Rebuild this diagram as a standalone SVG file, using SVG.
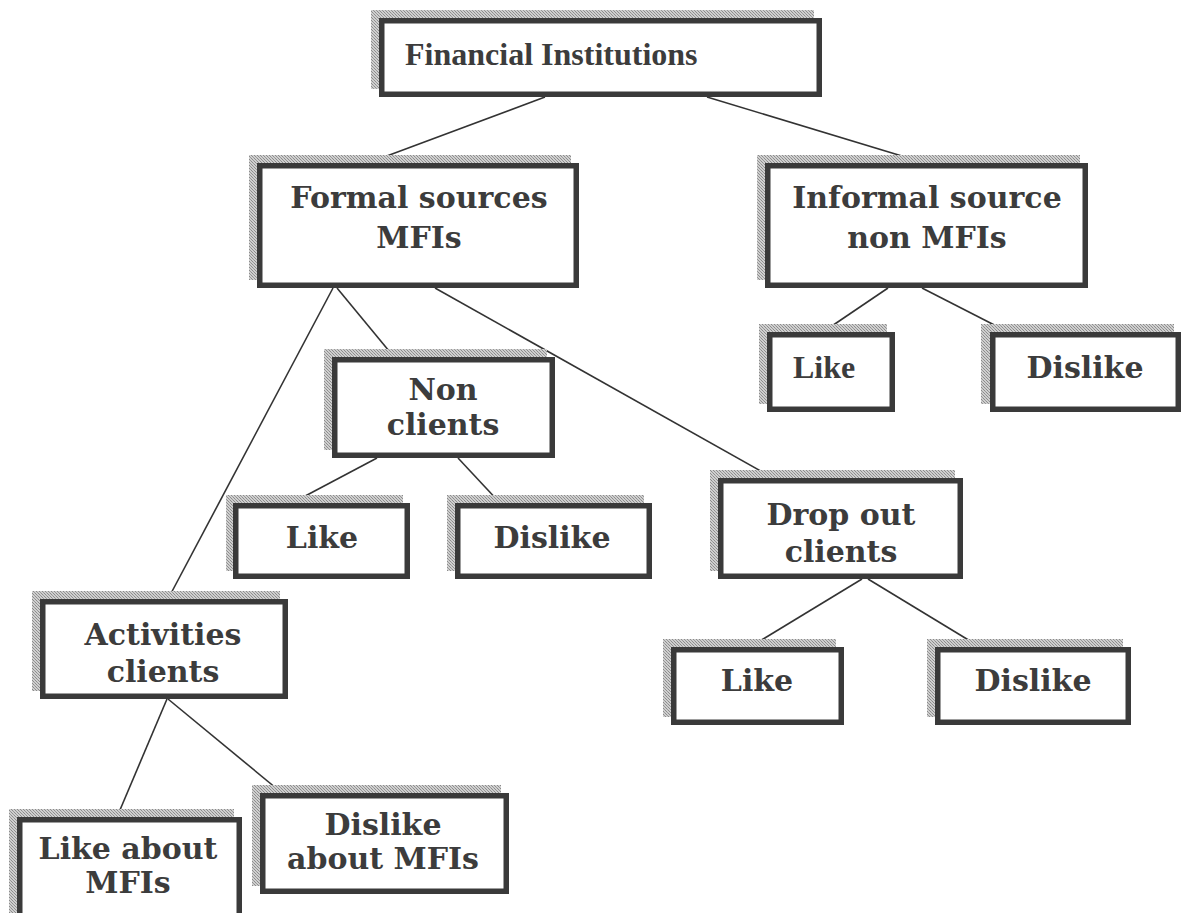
<svg xmlns="http://www.w3.org/2000/svg" width="1181" height="913" viewBox="0 0 1181 913">
  <defs>
    <pattern id="hatch" width="3" height="3" patternUnits="userSpaceOnUse">
      <rect width="3" height="3" fill="#cfcfcf"/>
      <rect x="0" y="0" width="1" height="1" fill="#8c8c8c"/>
      <rect x="1" y="1" width="1" height="1" fill="#9a9a9a"/>
      <rect x="2" y="2" width="1" height="1" fill="#8c8c8c"/>
    </pattern>
  </defs>
  <style>
    .sh { fill: url(#hatch); }
    .bx { fill: #ffffff; stroke: #3a3a3a; stroke-width: 5.5; }
    .t { font-family: "DejaVu Serif", "Liberation Serif", serif; font-weight: bold; font-size: 30px; fill: #3c3c3c; text-anchor: middle; }
    .tt { font-family: "Liberation Serif", "Times New Roman", serif; font-weight: bold; font-size: 32px; fill: #3c3c3c; }
    .c { stroke: #333333; stroke-width: 1.6; fill: none; }
  </style>
  <rect width="1181" height="913" fill="#ffffff"/>

  <g id="connectors">
    <line class="c" x1="545" y1="97" x2="368" y2="163"/>
    <line class="c" x1="707" y1="97" x2="925" y2="163"/>
    <line class="c" x1="333" y1="288" x2="168" y2="599"/>
    <line class="c" x1="337" y1="288" x2="394" y2="357"/>
    <line class="c" x1="435" y1="288" x2="773" y2="478"/>
    <line class="c" x1="888" y1="288" x2="823" y2="332"/>
    <line class="c" x1="922" y1="288" x2="1008" y2="332"/>
    <line class="c" x1="377" y1="458" x2="292" y2="503"/>
    <line class="c" x1="458" y1="458" x2="500" y2="503"/>
    <line class="c" x1="862" y1="579" x2="750" y2="647"/>
    <line class="c" x1="868" y1="579" x2="980" y2="647"/>
    <line class="c" x1="167" y1="699" x2="117" y2="817"/>
    <line class="c" x1="168" y1="699" x2="282" y2="793"/>
  </g>

  <g id="financial-institutions">
    <rect class="sh" x="371" y="10" width="443" height="79"/>
    <rect class="bx" x="381.75" y="20.75" width="437.5" height="73.5"/>
    <text class="tt" x="405" y="65">Financial Institutions</text>
  </g>

  <g id="formal-sources">
    <rect class="sh" x="249" y="155" width="322" height="125"/>
    <rect class="bx" x="259.75" y="165.75" width="316.5" height="119.5"/>
    <text class="t" x="419" y="208">Formal sources</text>
    <text class="t" x="419" y="248">MFIs</text>
  </g>

  <g id="informal-source">
    <rect class="sh" x="757" y="155" width="323" height="125"/>
    <rect class="bx" x="767.75" y="165.75" width="317.5" height="119.5"/>
    <text class="t" x="927" y="208">Informal source</text>
    <text class="t" x="927" y="248">non MFIs</text>
  </g>

  <g id="informal-like">
    <rect class="sh" x="759" y="324" width="128" height="80"/>
    <rect class="bx" x="769.75" y="334.75" width="122.5" height="74.5"/>
    <text class="tt" x="793" y="378">Like</text>
  </g>

  <g id="informal-dislike">
    <rect class="sh" x="981" y="324" width="193" height="80"/>
    <rect class="bx" x="992.75" y="334.75" width="185.5" height="74.5"/>
    <text class="t" x="1085" y="378">Dislike</text>
  </g>

  <g id="non-clients">
    <rect class="sh" x="324" y="349" width="223" height="101"/>
    <rect class="bx" x="334.75" y="359.75" width="217.5" height="95.5"/>
    <text class="t" x="443" y="400">Non</text>
    <text class="t" x="443" y="435">clients</text>
  </g>

  <g id="non-clients-like">
    <rect class="sh" x="226" y="495" width="177" height="76"/>
    <rect class="bx" x="235.75" y="505.75" width="171.5" height="70.5"/>
    <text class="t" x="322" y="548">Like</text>
  </g>

  <g id="non-clients-dislike">
    <rect class="sh" x="447" y="495" width="197" height="76"/>
    <rect class="bx" x="457.75" y="505.75" width="191.5" height="70.5"/>
    <text class="t" x="552" y="548">Dislike</text>
  </g>

  <g id="drop-out-clients">
    <rect class="sh" x="710" y="470" width="245" height="101"/>
    <rect class="bx" x="720.75" y="480.75" width="239.5" height="95.5"/>
    <text class="t" x="841" y="525">Drop out</text>
    <text class="t" x="841" y="562">clients</text>
  </g>

  <g id="drop-out-like">
    <rect class="sh" x="663" y="639" width="173" height="78"/>
    <rect class="bx" x="673.75" y="649.75" width="167.5" height="72.5"/>
    <text class="t" x="757" y="691">Like</text>
  </g>

  <g id="drop-out-dislike">
    <rect class="sh" x="927" y="639" width="196" height="78"/>
    <rect class="bx" x="937.75" y="649.75" width="190.5" height="72.5"/>
    <text class="t" x="1033" y="691">Dislike</text>
  </g>

  <g id="activities-clients">
    <rect class="sh" x="32" y="591" width="248" height="100"/>
    <rect class="bx" x="42.75" y="601.75" width="242.5" height="94.5"/>
    <text class="t" x="163" y="645">Activities</text>
    <text class="t" x="163" y="682">clients</text>
  </g>

  <g id="like-about-mfis">
    <rect class="sh" x="9" y="809" width="225" height="104"/>
    <rect class="bx" x="19.75" y="819.75" width="219.5" height="98"/>
    <text class="t" x="128" y="859">Like about</text>
    <text class="t" x="128" y="893">MFIs</text>
  </g>

  <g id="dislike-about-mfis">
    <rect class="sh" x="252" y="785" width="249" height="101"/>
    <rect class="bx" x="262.75" y="795.75" width="243.5" height="95.5"/>
    <text class="t" x="383" y="835">Dislike</text>
    <text class="t" x="383" y="869">about MFIs</text>
  </g>
</svg>
